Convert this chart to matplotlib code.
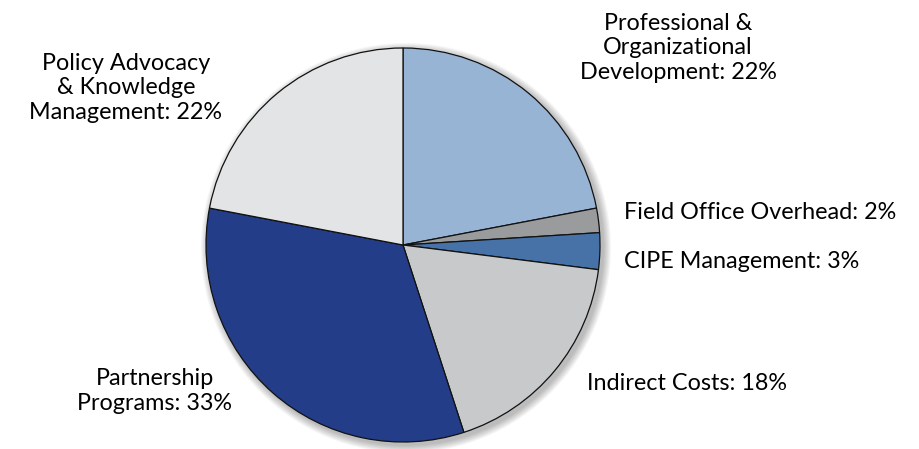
import matplotlib
matplotlib.use('Agg')
import matplotlib.pyplot as plt
from matplotlib.patches import Circle

# data, clockwise from 12 o'clock
names = ['Professional &\nOrganizational\nDevelopment', 'Field Office Overhead',
         'CIPE Management', 'Indirect Costs', 'Partnership\nPrograms',
         'Policy Advocacy\n& Knowledge\nManagement']
shares = [22, 2, 3, 18, 33, 22]
colors = ['#98b4d4', '#9a9b9d', '#4672a8', '#c8c9cb', '#233d88', '#e3e4e6']

plt.rcParams['font.family'] = ['Lato', 'DejaVu Sans']

W, H = 920, 449
fig = plt.figure(figsize=(W / 100, H / 100), dpi=100)
ax = fig.add_axes([0, 0, 1, 1])

cx, cy, r = 403, H - 245, 197

# soft drop shadow
for k in range(8):
    ax.add_patch(Circle((cx + 3, cy - 3), r + 1 + k, color='black',
                        alpha=0.035, lw=0, zorder=0))

ax.pie(shares, colors=colors, startangle=90, counterclock=False,
       center=(cx, cy), radius=r,
       wedgeprops=dict(edgecolor='#111111', linewidth=0.9))

lbl = [f'{n}: {s}%' for n, s in zip(names, shares)]
fs = 16.8
ls = 1.2
ax.text(678, H - 48, lbl[0], ha='center', va='center', fontsize=fs, linespacing=ls)
ax.text(624, H - 213, lbl[1], ha='left', va='center', fontsize=fs)
ax.text(624, H - 262, lbl[2], ha='left', va='center', fontsize=fs)
ax.text(587, H - 383, lbl[3], ha='left', va='center', fontsize=fs)
ax.text(155, H - 391, lbl[4], ha='center', va='center', fontsize=fs, linespacing=ls)
ax.text(126, H - 88, lbl[5], ha='center', va='center', fontsize=fs, linespacing=ls)

ax.set_xlim(0, W)
ax.set_ylim(0, H)
ax.set_aspect('equal')
ax.axis('off')

fig.savefig('out.png', dpi=100, facecolor='white')
